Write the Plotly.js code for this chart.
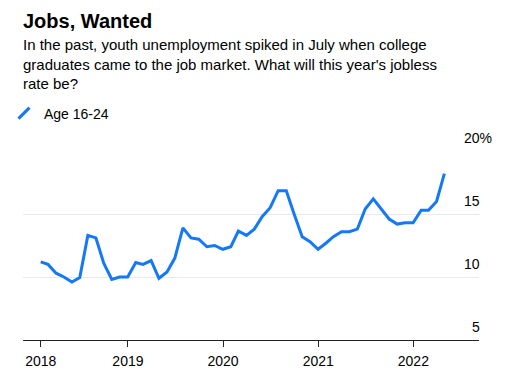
<!DOCTYPE html>
<html>
<head>
<meta charset="utf-8">
<script src="https://cdn.plot.ly/plotly-3.0.1.min.js"></script>
<style>html,body{margin:0;padding:0;background:#fff;}#chart{width:515px;height:389px;}</style>
</head>
<body>
<div id="chart"></div>
<script>
// Month-end dates of each observation
const dates = [
  '2018-01-31','2018-02-28','2018-03-31','2018-04-30','2018-05-31','2018-06-30',
  '2018-07-31','2018-08-31','2018-09-30','2018-10-31','2018-11-30','2018-12-31',
  '2019-01-31','2019-02-28','2019-03-31','2019-04-30','2019-05-31','2019-06-30',
  '2019-07-31','2019-08-31','2019-09-30','2019-10-31','2019-11-30','2019-12-31',
  '2020-01-31','2020-02-29','2020-03-31','2020-04-30','2020-05-31','2020-06-30',
  '2020-07-31','2020-08-31','2020-09-30','2020-10-31','2020-11-30','2020-12-31',
  '2021-01-31','2021-02-28','2021-03-31','2021-04-30','2021-05-31','2021-06-30',
  '2021-07-31','2021-08-31','2021-09-30','2021-10-31','2021-11-30','2021-12-31',
  '2022-01-31','2022-02-28','2022-03-31','2022-04-30'
];
// Unemployment rate, age 16-24 (%)
const age1624 = [
  11.2, 11.0, 10.3, 10.0, 9.6, 9.95,
  13.3, 13.1, 11.1, 9.8, 10.0, 10.0,
  11.15, 11.0, 11.3, 9.9, 10.4, 11.5,
  13.9, 13.1, 13.0, 12.4, 12.5, 12.2,
  12.4, 13.65, 13.3, 13.8, 14.8, 15.5,
  16.85, 16.85, 15.0, 13.2, 12.8, 12.2,
  12.7, 13.2, 13.6, 13.6, 13.8, 15.4,
  16.2, 15.4, 14.6, 14.2, 14.3, 14.3,
  15.3, 15.3, 16.0, 18.2
];
const seriesName = 'Age 16-24';
const xTickVals = ['2018-01-31','2019-01-01','2020-01-01','2021-01-01','2022-01-01'];
const xTickText = ['2018','2019','2020','2021','2022'];
const yTickVals = [5, 10, 15, 20];
const yTickText = ['5', '10', '15', '20%'];
const titleText = 'Jobs, Wanted';
const subtitleText = "In the past, youth unemployment spiked in July when college<br>graduates came to the job market. What will this year's jobless<br>rate be?";

const BLUE = '#1478fa';
const FONT = 'Liberation Sans, Arial, sans-serif';

const traces = [
  {
    x: dates, y: age1624, type: 'scatter', mode: 'lines',
    line: {color: BLUE, width: 3, shape: 'linear'},
    showlegend: false, hoverinfo: 'skip'
  },
  {
    x: [null], y: [null], type: 'scatter', mode: 'markers', name: seriesName,
    marker: {symbol: 'line-ne', size: 11, color: BLUE, line: {color: BLUE, width: 3}},
    showlegend: true
  }
];

const annotations = [
  {
    text: subtitleText, xref: 'paper', yref: 'paper', x: 0, y: 1.617,
    xanchor: 'left', yanchor: 'top', align: 'left', showarrow: false, xshift: -2,
    font: {family: FONT, size: 15, color: '#000'}
  }
];
yTickVals.forEach((v, i) => {
  const t = yTickText[i];
  annotations.push({
    text: t, xref: 'paper', yref: 'y', x: 1, y: v,
    xanchor: 'right', yanchor: 'bottom', showarrow: false,
    xshift: t.endsWith('%') ? 14.5 : 2.5, yshift: 3,
    font: {family: FONT, size: 14, color: '#000'}
  });
});

const layout = {
  width: 515, height: 389,
  margin: {l: 23, r: 36, t: 151, b: 49, pad: 0, autoexpand: false},
  paper_bgcolor: '#fff', plot_bgcolor: '#fff',
  font: {family: FONT, size: 14, color: '#000'},
  title: {
    text: '<b>' + titleText + '</b>',
    xref: 'container', yref: 'container',
    x: 23 / 515, xanchor: 'left', y: 1 - 13.5 / 389, yanchor: 'top',
    font: {family: FONT, size: 20, color: '#000'}
  },
  showlegend: true,
  legend: {
    x: -19 / 456, xanchor: 'left', xref: 'paper', y: 1.283, yanchor: 'top',
    font: {family: FONT, size: 14, color: '#000'},
    itemwidth: 30, bgcolor: 'rgba(0,0,0,0)', borderwidth: 0,
    tracegroupgap: 0
  },
  xaxis: {
    type: 'date', range: ['2017-11-24', '2022-09-10'],
    tickmode: 'array', tickvals: xTickVals, ticktext: xTickText,
    ticks: 'outside', ticklen: 6, tickwidth: 1, tickcolor: '#222',
    ticklabelstandoff: 2,
    showline: true, linecolor: '#222', linewidth: 1,
    showgrid: false, zeroline: false,
    tickfont: {family: FONT, size: 14, color: '#000'}
  },
  yaxis: {
    range: [5, 20], tickmode: 'array', tickvals: yTickVals,
    showticklabels: false, ticks: '',
    showgrid: true, gridcolor: '#e9e9e9', gridwidth: 1,
    zeroline: false, showline: false, side: 'right'
  },
  annotations: annotations
};

Plotly.newPlot('chart', traces, layout, {displayModeBar: false, staticPlot: true});
</script>
</body>
</html>
